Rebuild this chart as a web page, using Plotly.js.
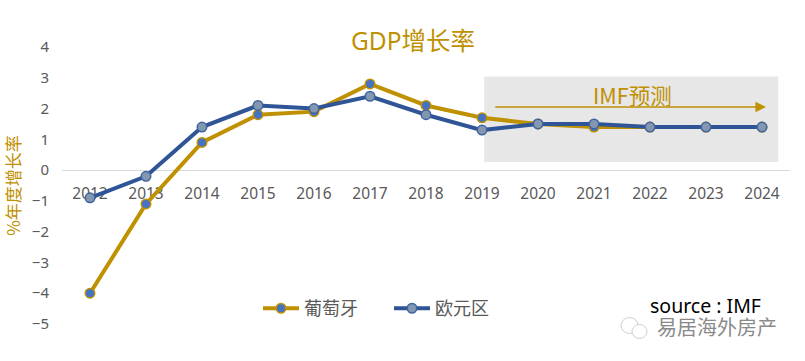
<!DOCTYPE html>
<html><head><meta charset="utf-8">
<script src="https://cdn.plot.ly/plotly-3.0.1.min.js"></script>
<style>html,body{margin:0;padding:0;background:#fff}</style></head>
<body><div id="c" style="width:805px;height:361px"></div>
<script>
const years=[2012,2013,2014,2015,2016,2017,2018,2019,2020,2021,2022,2023,2024];
const portugal=[-4,-1.1,0.9,1.8,1.9,2.8,2.1,1.7,1.5,1.4,1.4,1.4,1.4];
const euroArea=[-0.9,-0.2,1.4,2.1,2.0,2.4,1.8,1.3,1.5,1.5,1.4,1.4,1.4];
const yTicks=[-5,-4,-3,-2,-1,0,1,2,3,4];
const GOLD='#BF9000',BLUE='#2F5597',FONT='"Noto Sans","Noto Sans CJK SC",sans-serif',CJK='"Noto Sans CJK SC",sans-serif';
const tr=(name,y,c,f,b)=>({type:'scatter',mode:'lines+markers',name,x:years,y,cliponaxis:false,
 line:{color:c,width:4},marker:{size:9.5,color:f,line:{color:b,width:1.5}}});
const px=v=>(v-62)/728, py=v=>(324.5-v)/278;
Plotly.newPlot('c',[tr('葡萄牙',portugal,GOLD,'#4472C4',GOLD),tr('欧元区',euroArea,BLUE,'#8497B0','#3E64A0')],{
 width:805,height:361,margin:{l:62,r:15,t:46.5,b:36.5},paper_bgcolor:'#fff',plot_bgcolor:'#fff',
 font:{family:FONT,color:'#595959',size:15},
 xaxis:{range:[2011.5,2024.5],tickvals:years,anchor:'free',position:5/9,showgrid:false,zeroline:false,showline:true,linecolor:'#D9D9D9',linewidth:1,ticks:'',ticklabelstandoff:9,tickfont:{size:15.5,color:'#595959'},layer:'below traces'},
 yaxis:{range:[-5,4],tickvals:yTicks,showgrid:false,zeroline:false,showline:false,ticks:'',ticklabelstandoff:12,tickfont:{size:15,color:'#595959'},
  title:{text:'%年度增长率',font:{family:CJK,size:17,color:GOLD},standoff:7}},
 legend:{orientation:'h',x:px(258),xanchor:'left',y:py(309),yanchor:'middle',font:{family:CJK,size:18,color:'#595959'},itemwidth:36,entrywidth:80,entrywidthmode:'pixels',bgcolor:'rgba(0,0,0,0)'},
 shapes:[
  {type:'rect',layer:'below',xref:'x',yref:'y',x0:2019.04,x1:2024.29,y0:0.26,y1:3.04,fillcolor:'#E7E7E7',line:{width:0}},
  {type:'circle',xref:'paper',yref:'paper',x0:px(621),x1:px(638),y0:py(334),y1:py(318),fillcolor:'#fff',line:{color:'#cfcfcf',width:1}},
  {type:'circle',xref:'paper',yref:'paper',x0:px(632),x1:px(647),y0:py(339),y1:py(325),fillcolor:'#fff',line:{color:'#cfcfcf',width:1}}
 ],
 annotations:[
  {xref:'x',yref:'y',x:2021.68,y:2.45,text:'IMF预测',showarrow:false,font:{family:CJK,size:21.5,color:GOLD}},
  {xref:'x',yref:'y',axref:'x',ayref:'y',x:2024.07,y:2.05,ax:2019.21,ay:2.05,text:'',showarrow:true,arrowhead:2,arrowsize:1.4,arrowwidth:1.5,arrowcolor:GOLD},
  {xref:'paper',yref:'paper',x:px(705),xanchor:'center',y:py(305.5),yanchor:'middle',text:'source : IMF',showarrow:false,font:{family:FONT,size:19.5,color:'#000'}},
  {xref:'paper',yref:'paper',x:px(717),xanchor:'center',y:py(327),yanchor:'middle',text:'易居海外房产',showarrow:false,font:{family:CJK,size:20,color:'#8a8a8a'}}
 ],
 title:{text:'GDP增长率',font:{family:FONT,size:24.5,color:GOLD},x:413/805,xanchor:'center',y:1-41.5/361,yanchor:'middle'}
},{displayModeBar:false,staticPlot:true});
</script></body></html>
